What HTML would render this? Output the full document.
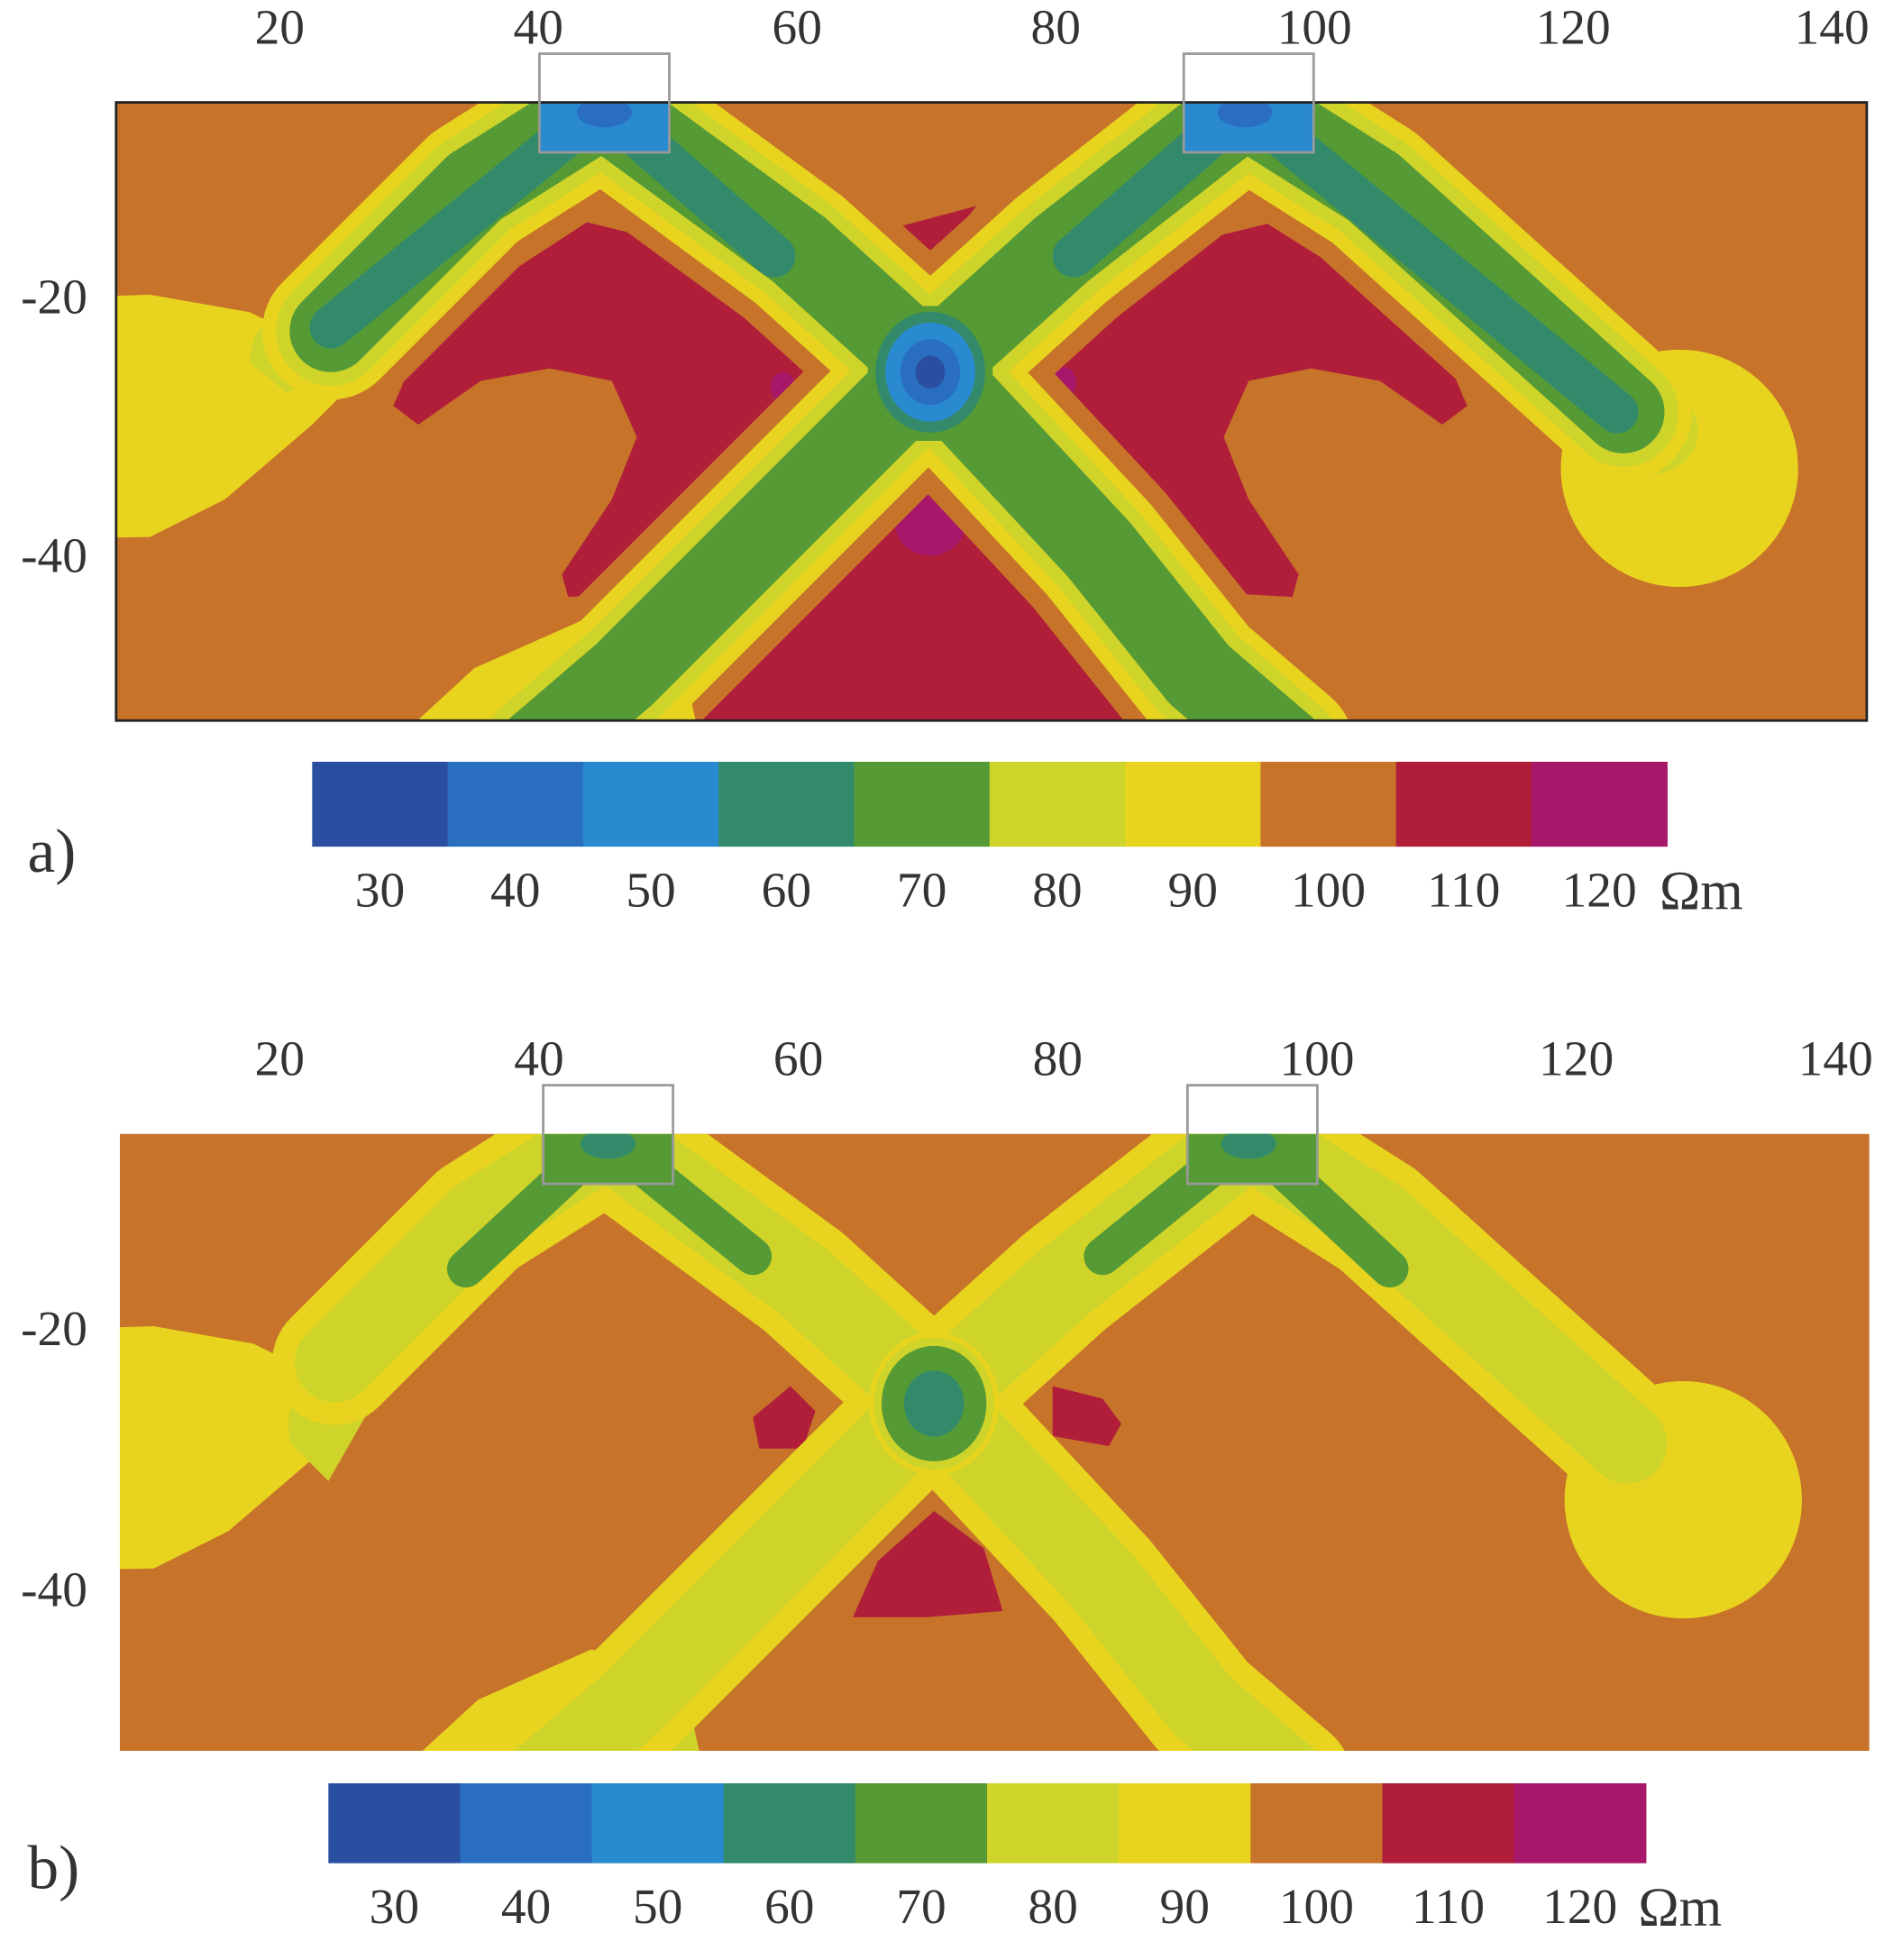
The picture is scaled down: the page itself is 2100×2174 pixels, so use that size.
<!DOCTYPE html>
<html><head><meta charset="utf-8"><style>
html,body{margin:0;padding:0;background:#fff;}
svg{display:block;}
text{font-family:"Liberation Serif",serif;fill:#333;}
</style></head><body>
<svg id="fig" width="2100" height="2174" viewBox="0 0 1516 1569.5" preserveAspectRatio="none" xmlns="http://www.w3.org/2000/svg"></svg>
<script>
const levels = [30,40,50,60,70,80,90,100,110,120];
const levelColors = ['#2b4fa0','#2a6fbf','#2a8ad0','#338a6a','#559a35','#cfd42a','#e8d41e','#c8732a','#b01e3a','#a8186a'];
const xTicks = [20,40,60,80,100,120,140];
const yTicks = [-20,-40];
const NS='http://www.w3.org/2000/svg';
const svg=document.getElementById('fig');
function el(tag,attrs,parent){const e=document.createElementNS(NS,tag);for(const k in attrs)e.setAttribute(k,attrs[k]);(parent||svg).appendChild(e);return e;}
function col(v){return levelColors[levels.indexOf(v)];}

function panel(p){
  const g=el('g',{});
  
  
  const X=v=>p.x20+(v-20)*(p.x140-p.x20)/120;
  const Y=v=>p.ym20+(v+20)*(p.ym40-p.ym20)/(-20);
  xTicks.forEach(t=>{const tx=el('text',{x:X(t),y:p.top-47,'font-size':40,'text-anchor':'middle'},g);tx.textContent=t;
    });
  yTicks.forEach(t=>{const tx=el('text',{x:70,y:Y(t)+14,'font-size':40,'text-anchor':'end'},g);tx.textContent=t;
    });
  const clip=el('clipPath',{id:'c'+p.name},g);
  el('rect',{x:p.left,y:p.top,width:p.right-p.left,height:p.bottom-p.top},clip);
  const outer=el('g',{'clip-path':'url(#c'+p.name+')'},g);
  const m=el('g',{transform:`translate(${p.dx},${p.top-82})`},outer);
  el('rect',{x:0,y:0,width:1600,height:600,fill:col(100)},m);
  const redL='M315,325 L330,290 L390,230 L470,178 L540,195 L620,255 L660,300 L640,345 L590,395 L555,440 L510,475 L455,478 L450,460 L490,400 L510,350 L490,305 L440,295 L385,305 L335,340 Z';
  const arms=[
    'M483,85 L640,200 L745,295','M997,85 L850,200 L745,295',
    'M483,85 L380,150 L265,265','M997,85 L1100,150 L1300,330',
    'M745,295 L600,440 L500,540 L430,600','M745,295 L880,440 L960,540 L1030,600'];
  if(p.bigRed){
    el('path',{d:redL,fill:col(110)},m);
    el('path',{d:redL,fill:col(110),transform:'translate(1490,0) scale(-1,1)'},m);
    el('path',{d:'M718,182 L782,165 L745,212 Z',fill:col(110)},m);
    el('path',{d:'M550,590 L610,500 L680,420 L745,372 L805,420 L870,500 L950,590 Z',fill:col(110)},m);
    el('ellipse',{cx:627,cy:310,rx:10,ry:12,fill:col(120)},m);
    el('ellipse',{cx:852,cy:306,rx:10,ry:12,fill:col(120)},m);
    el('ellipse',{cx:745,cy:420,rx:28,ry:25,fill:col(120)},m);
  } else {
    el('path',{d:'M600,309 L630,284 L650,304 L640,334 L605,334 Z',fill:col(110)},m);
    el('path',{d:'M840,284 L880,294 L895,314 L885,332 L840,324 Z',fill:col(110)},m);
    el('path',{d:'M680,469 L700,424 L745,384 L785,414 L800,464 L740,469 Z',fill:col(110)},m);
  }
  arms.forEach(d=>{el('path',{d:d,fill:'none',stroke:col(100),'stroke-width':p.halo,'stroke-linecap':'butt','stroke-linejoin':'round'},m);});
  el('path',{d:'M0,240 L120,236 L200,250 L250,275 L300,290 L250,340 L180,400 L120,430 L0,432 Z',fill:col(90)},m);
  el('ellipse',{cx:1345,cy:375,rx:95,ry:95,fill:col(90)},m);
  el('path',{d:'M320,590 L380,535 L470,495 L540,500 L560,590 Z',fill:col(90)},m);
  if(p.bigRed){
    el('path',{d:'M200,290 C200,250 240,240 265,245 L270,290 L230,315 Z',fill:col(80)},m);
    el('ellipse',{cx:1320,cy:345,rx:40,ry:35,fill:col(80)},m);
  } else {
    el('path',{d:'M230,330 C220,290 250,260 280,250 L300,290 L260,360 Z',fill:col(80)},m);
    el('ellipse',{cx:1300,cy:340,rx:30,ry:28,fill:col(80)},m);
    el('path',{d:'M470,590 L490,510 L540,500 L560,590 Z',fill:col(80)},m);
  }
  p.layers.forEach(L=>{
    arms.forEach(d=>{el('path',{d:d,fill:'none',stroke:L.c,'stroke-width':L.w,'stroke-linecap':'round','stroke-linejoin':'round'},m);});
  });
  p.topBands.forEach(L=>{
    (L.short?['M483,85 L600,180','M997,85 L880,180','M483,85 L370,190','M997,85 L1110,190']
      :['M483,85 L620,205','M997,85 L860,205','M483,85 L265,262','M997,85 L1295,330']).forEach(d=>{
      el('path',{d:d,fill:'none',stroke:L.c,'stroke-width':L.w,'stroke-linecap':'round'},m);});
  });
  p.center.forEach(c=>{
    if(c.rect) el('rect',{x:745-c.r,y:295-c.r,width:2*c.r,height:2*c.r+8,rx:12,fill:c.c},m);
    else el('ellipse',{cx:745,cy:298,rx:c.r,ry:c.r*1.1,fill:c.c},m);
  });
  p.boxFill.forEach(b=>{
    el('rect',{x:432,y:82,width:104,height:40,fill:b.c},m);
    el('rect',{x:948,y:82,width:104,height:40,fill:b.c},m);
    el('ellipse',{cx:484,cy:90,rx:22,ry:12,fill:b.d},m);
    el('ellipse',{cx:997,cy:90,rx:22,ry:12,fill:b.d},m);
  });
  const fr=el('rect',{x:p.left,y:p.top,width:p.right-p.left,height:p.bottom-p.top,fill:'none',stroke:p.frame?'#222':'none','stroke-width':2},g);
  
  [432,948].forEach(bx=>{
    const b=el('rect',{x:bx+p.dx,y:p.top-39,width:104,height:79,fill:'none',stroke:'#999','stroke-width':2},g);
    
  });
  const cb=el('g',{},g);
  
  const cw=(p.cb1-p.cb0)/levels.length;
  levels.forEach((v,i)=>{
    const r=el('rect',{x:p.cb0+i*cw,y:p.cbY,width:cw+0.5,height:p.cbH,fill:col(v)},cb);
    
    const t=el('text',{x:p.cb0+i*cw+cw/2,y:p.cbY+p.cbH+48,'font-size':40,'text-anchor':'middle'},cb);
    t.textContent=v;
  });
  const u=el('text',{x:p.cb1-6,y:p.cbY+p.cbH+50,'font-size':44},cb);u.textContent='Ωm';
  
  const lab=el('text',{x:22,y:p.cbY+p.cbH+20,'font-size':50},g);lab.textContent=p.label;
  
}

panel({name:'panel-a',label:'a)',left:93,right:1495,top:82,bottom:577,dx:0,x20:224,x140:1467,ym20:237,ym40:444,frame:true,bigRed:true,halo:140,
  layers:[{c:col(90),w:110},{c:col(80),w:88},{c:col(70),w:66}],
  topBands:[{c:col(60),w:34}],
  center:[{rect:1,r:50,c:col(70)},{r:44,c:col(60)},{r:36,c:col(50)},{r:24,c:col(40)},{r:12,c:col(30)}],
  boxFill:[{c:col(50),d:col(40)}],
  cb0:250,cb1:1335,cbY:610,cbH:68});
panel({name:'panel-b',label:'b)',left:96,right:1497,top:908,bottom:1402,dx:3,x20:224,x140:1470,ym20:1063,ym40:1272,frame:false,bigRed:false,halo:0.1,
  layers:[{c:col(90),w:100},{c:col(80),w:64}],
  topBands:[{c:col(70),w:30,short:1}],
  center:[{r:52,c:col(90)},{r:48,c:col(80)},{r:42,c:col(70)},{r:24,c:col(60)}],
  boxFill:[{c:col(70),d:col(60)}],
  cb0:263,cb1:1318,cbY:1428,cbH:64});
</script>
</body></html>
